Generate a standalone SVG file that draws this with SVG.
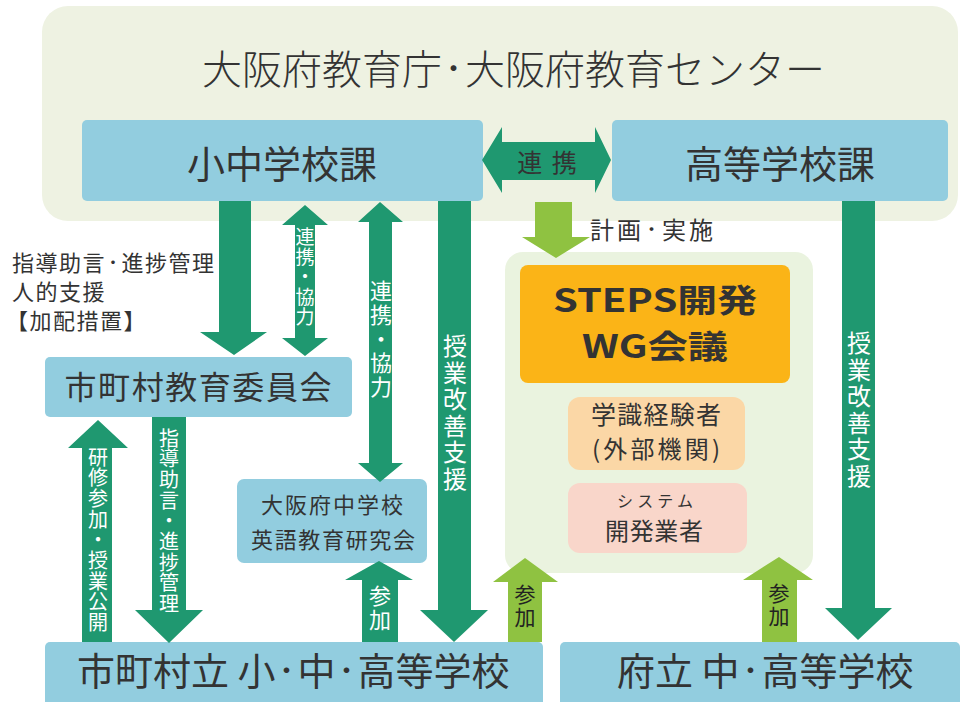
<svg xmlns="http://www.w3.org/2000/svg" width="968" height="702" viewBox="0 0 968 702">
<style>
text{font-family:"Noto Sans CJK JP","Noto Sans",sans-serif;fill:#333}
.blue{fill:#92cddf}
.dg{fill:#1f9870}
.lg{fill:#8fc241}
.vt{writing-mode:vertical-rl;fill:#fff}
.vb{writing-mode:vertical-rl;fill:#222}
.big{font-size:38px}
.dot{font-weight:bold}
</style>
<rect width="968" height="702" fill="#fff"/>
<g id="kyoikucho">
<rect x="42" y="6" width="916" height="215" rx="26" fill="#eef2e2"/>
<text x="202" y="84" font-size="40" font-weight="300">大阪府教育庁<tspan class="dot" font-size="23" dy="-7">・</tspan><tspan dy="7">大阪府教育センター</tspan></text>
</g>
<g id="steps-panel">
<rect x="505" y="252" width="308" height="321" rx="18" fill="#eaf3df"/>
</g>
<g id="shochu">
<rect class="blue" x="82" y="120" width="401" height="81" rx="5"/>
<text class="big" x="282" y="178" text-anchor="middle">小中学校課</text>
</g>
<g id="koto">
<rect class="blue" x="612" y="120" width="336" height="81" rx="5"/>
<text class="big" x="780" y="178" text-anchor="middle">高等学校課</text>
</g>
<g id="shichoson-iinkai">
<rect class="blue" x="45" y="357" width="307" height="60" rx="5"/>
<text x="198" y="399" font-size="32" text-anchor="middle" textLength="267">市町村教育委員会</text>
</g>
<g id="eigo-kenkyukai">
<rect class="blue" x="237" y="479" width="190" height="84" rx="7"/>
<text x="332" y="513" font-size="22" text-anchor="middle" textLength="142">大阪府中学校</text>
<text x="333" y="548" font-size="22" text-anchor="middle" textLength="164">英語教育研究会</text>
</g>
<g id="steps-wg">
<rect x="520" y="265" width="270" height="118" rx="8" fill="#fbb417"/>
<text x="655" y="312" font-size="32" font-weight="bold" text-anchor="middle" textLength="204" lengthAdjust="spacingAndGlyphs" fill="#222">STEPS開発</text>
<text x="655" y="358" font-size="32" font-weight="bold" text-anchor="middle" textLength="146" lengthAdjust="spacingAndGlyphs" fill="#222">WG会議</text>
</g>
<g id="gakushiki">
<rect x="568" y="397" width="177" height="73" rx="12" fill="#fbd7a6"/>
<text x="656" y="424" font-size="25" text-anchor="middle" textLength="130">学識経験者</text>
<text x="656" y="458" font-size="24" text-anchor="middle" textLength="128">(外部機関)</text>
</g>
<g id="system">
<rect x="568" y="483" width="179" height="70" rx="12" fill="#f9d6ca"/>
<text x="655" y="507" font-size="16" text-anchor="middle" textLength="76">システム</text>
<text x="654" y="540" font-size="24" text-anchor="middle" textLength="98">開発業者</text>
</g>
<g id="shichoson-gakko">
<rect class="blue" x="45" y="642" width="498" height="70" rx="5"/>
<text x="77" y="685" font-size="38">市町村立 小<tspan class="dot" font-size="22" dy="-7">・</tspan><tspan dy="7">中</tspan><tspan class="dot" font-size="22" dy="-7">・</tspan><tspan dy="7">高等学校</tspan></text>
</g>
<g id="furitsu-gakko">
<rect class="blue" x="560" y="642" width="400" height="70" rx="5"/>
<text x="617" y="685" font-size="38">府立 中<tspan class="dot" font-size="22" dy="-7">・</tspan><tspan dy="7">高等学校</tspan></text>
</g>
<g id="left-label">
<text x="12" y="271" font-size="22" fill="#222" letter-spacing="1.5">指導助言<tspan class="dot" font-size="14" dy="-4">・</tspan><tspan dy="4">進捗管理</tspan></text>
<text x="12" y="300" font-size="22" fill="#222" letter-spacing="1.5">人的支援</text>
<text x="6" y="329" font-size="22" fill="#222" letter-spacing="1.5">【加配措置】</text>
</g>
<g id="connectors">
<!-- 連携 horizontal -->
<path class="dg" d="M482,160 L502,127 L502,142 L595,142 L595,127 L611,160 L595,193 L595,180 L502,180 L502,193 Z"/>
<text x="548" y="172" font-size="25" fill="#fff" text-anchor="middle" letter-spacing="2">連 携</text>
<!-- 計画・実施 -->
<path class="lg" d="M535,202 L572,202 L572,237 L590,237 L556,258 L522,237 L535,237 Z"/>
<text x="590" y="239" font-size="24" fill="#222" letter-spacing="3">計画<tspan class="dot" font-size="15" dy="-4">・</tspan><tspan dy="4">実施</tspan></text>
<!-- 指導助言 down to iinkai -->
<path class="dg" d="M219,201 L251,201 L251,332 L267,332 L234,355 L200,332 L219,332 Z"/>
<!-- 連携協力 small double -->
<path class="dg" d="M305,205 L328,225 L315,225 L315,338 L328,338 L305,356 L282,338 L295,338 L295,225 L282,225 Z"/>
<text class="vt" x="305" y="227" font-size="19" letter-spacing="1">連携・協力</text>
<!-- 連携協力 long double -->
<path class="dg" d="M380,202 L403,222 L392,222 L392,463 L403,463 L380,482 L358,463 L369,463 L369,222 L358,222 Z"/>
<text class="vt" x="381" y="280" font-size="22" letter-spacing="2">連携・協力</text>
<!-- 授業改善支援 left -->
<path class="dg" d="M438,201 L471,201 L471,610 L488,610 L454,642 L420,610 L438,610 Z"/>
<text class="vt" x="455" y="334" font-size="24" letter-spacing="2.5">授業改善支援</text>
<!-- 授業改善支援 right -->
<path class="dg" d="M842,201 L875,201 L875,608 L892,608 L858,640 L825,608 L842,608 Z"/>
<text class="vt" x="859" y="331" font-size="24" letter-spacing="2.5">授業改善支援</text>
<!-- 研修参加・授業公開 up -->
<path class="dg" d="M98,420 L128,448 L112,448 L112,642 L82,642 L82,448 L68,448 Z"/>
<text class="vt" x="98" y="447" font-size="20" letter-spacing="0.7">研修参加・授業公開</text>
<!-- 指導助言・進捗管理 down -->
<path class="dg" d="M152,417 L186,417 L186,610 L203,610 L169,643 L135,610 L152,610 Z"/>
<text class="vt" x="169" y="428" font-size="20" letter-spacing="0.7">指導助言・進捗管理</text>
<!-- 参加 to kenkyukai -->
<path class="dg" d="M379,561 L413,580 L398,580 L398,642 L362,642 L362,580 L345,580 Z"/>
<text class="vt" x="380" y="585" font-size="22" letter-spacing="2">参加</text>
<!-- 参加 green left -->
<path class="lg" d="M525,558 L558,582 L542,582 L542,642 L508,642 L508,582 L493,582 Z"/>
<text class="vb" x="525" y="584" font-size="21" letter-spacing="2">参加</text>
<!-- 参加 green right -->
<path class="lg" d="M779,557 L813,580 L797,580 L797,642 L762,642 L762,580 L743,580 Z"/>
<text class="vb" x="779" y="583" font-size="21" letter-spacing="2">参加</text>
</g>
</svg>
